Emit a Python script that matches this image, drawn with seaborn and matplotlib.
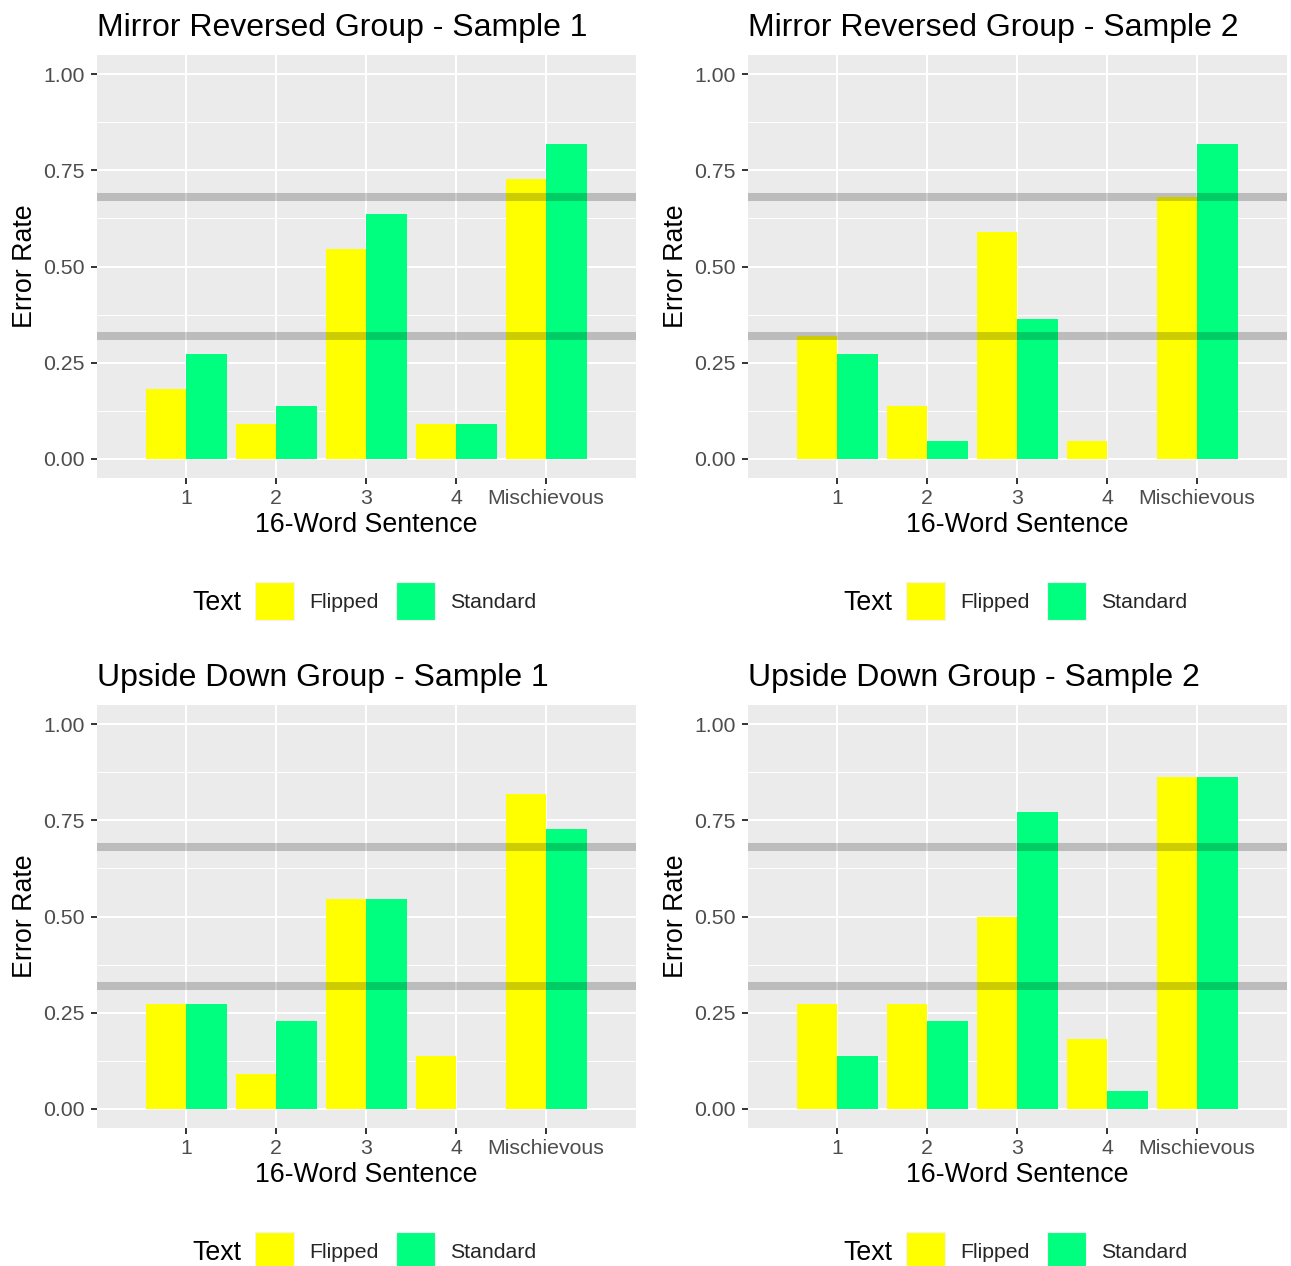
import matplotlib
matplotlib.use("Agg")
import matplotlib.pyplot as plt
from matplotlib.patches import Patch
from matplotlib.ticker import FixedLocator
import numpy as np
import pandas as pd
import seaborn as sns

# Error rates per sentence for each group / sample
sentences = ["1", "2", "3", "4", "Mischievous"]
text_levels = ["Flipped", "Standard"]

mirror_s1_flipped = [0.182, 0.091, 0.545, 0.091, 0.727]
mirror_s1_standard = [0.273, 0.136, 0.636, 0.091, 0.818]
mirror_s2_flipped = [0.318, 0.136, 0.591, 0.045, 0.682]
mirror_s2_standard = [0.273, 0.045, 0.364, 0.0, 0.818]
upside_s1_flipped = [0.273, 0.091, 0.545, 0.136, 0.818]
upside_s1_standard = [0.273, 0.227, 0.545, 0.0, 0.727]
upside_s2_flipped = [0.273, 0.273, 0.500, 0.182, 0.864]
upside_s2_standard = [0.136, 0.227, 0.773, 0.045, 0.864]

panel_titles = [
    "Mirror Reversed Group - Sample 1",
    "Mirror Reversed Group - Sample 2",
    "Upside Down Group - Sample 1",
    "Upside Down Group - Sample 2",
]
panel_values = [
    (mirror_s1_flipped, mirror_s1_standard),
    (mirror_s2_flipped, mirror_s2_standard),
    (upside_s1_flipped, upside_s1_standard),
    (upside_s2_flipped, upside_s2_standard),
]
reference_lines = [0.32, 0.68]
palette = {"Flipped": "#FFFF00", "Standard": "#00FF7F"}

sns.set_theme(style="white")
plt.rcParams["font.family"] = ["Liberation Sans", "DejaVu Sans"]

W, H = 1291, 1266
fig = plt.figure(figsize=(W / 100, H / 100), dpi=100)
fig.patch.set_facecolor("white")


def px_rect(left, top, right, bottom):
    return [left / W, 1 - bottom / H, (right - left) / W, (bottom - top) / H]


TICK_FS = 15.3
LABEL_FS = 19.3
TITLE_FS = 23

for i, (title, (flipped, standard)) in enumerate(zip(panel_titles, panel_values)):
    r, c = divmod(i, 2)
    dx, dy = 651 * c, 650 * r
    ax = fig.add_axes(px_rect(97 + dx, 55 + dy, 636 + dx, 478 + dy))

    df = pd.DataFrame({
        "Sentence": sentences * 2,
        "Rate": list(flipped) + list(standard),
        "Text": ["Flipped"] * len(sentences) + ["Standard"] * len(sentences),
    })
    sns.barplot(data=df, x="Sentence", y="Rate", hue="Text", order=sentences,
                hue_order=text_levels, palette=palette, width=0.9,
                saturation=1, linewidth=0, ax=ax, zorder=3)
    if ax.get_legend() is not None:
        ax.get_legend().remove()

    for yv in reference_lines:
        ax.axhline(yv, color="black", alpha=0.2, lw=5.8, zorder=4)

    ax.set_facecolor("#EBEBEB")
    for s in ax.spines.values():
        s.set_visible(False)
    ax.set_xlim(-0.99, 5.0)
    ax.set_ylim(-0.05, 1.05)
    ax.set_yticks([0, 0.25, 0.5, 0.75, 1.0])
    ax.set_yticklabels(["0.00", "0.25", "0.50", "0.75", "1.00"])
    ax.yaxis.set_minor_locator(FixedLocator([0.125, 0.375, 0.625, 0.875]))
    ax.grid(True, which="major", color="white", lw=1.5, zorder=0)
    ax.grid(True, which="minor", axis="y", color="white", lw=0.7, zorder=0)
    ax.set_axisbelow(True)
    ax.tick_params(axis="both", which="major", length=4.3, width=1.4,
                   color="#333333", labelcolor="#4D4D4D", labelsize=TICK_FS,
                   direction="out", pad=3.5, left=True, bottom=True)
    ax.tick_params(axis="y", which="major", pad=4.5)
    ax.tick_params(axis="y", which="minor", length=0)

    ax.set_xlabel("16-Word Sentence", fontsize=LABEL_FS, color="black",
                  labelpad=3)
    ax.set_ylabel("Error Rate", fontsize=LABEL_FS, color="black", labelpad=4)
    ax.set_title(title, loc="left", fontsize=TITLE_FS, color="black", pad=14)

    # legend below each panel
    fig.text((192 + dx) / W, 1 - (603 + dy) / H, "Text", fontsize=LABEL_FS,
             ha="left", va="center", color="black")
    handles = [Patch(facecolor=palette[t], edgecolor="#F2F2F2", lw=0.8)
               for t in text_levels]
    fig.legend(handles, text_levels, loc="center left",
               bbox_to_anchor=((255 + dx) / W, 1 - (601 + dy) / H),
               ncol=2, frameon=False, fontsize=TICK_FS, handlelength=1.83,
               handleheight=2.42, handletextpad=0.7, columnspacing=0.85,
               borderpad=0, borderaxespad=0)

fig.savefig("out.png", dpi=100)
